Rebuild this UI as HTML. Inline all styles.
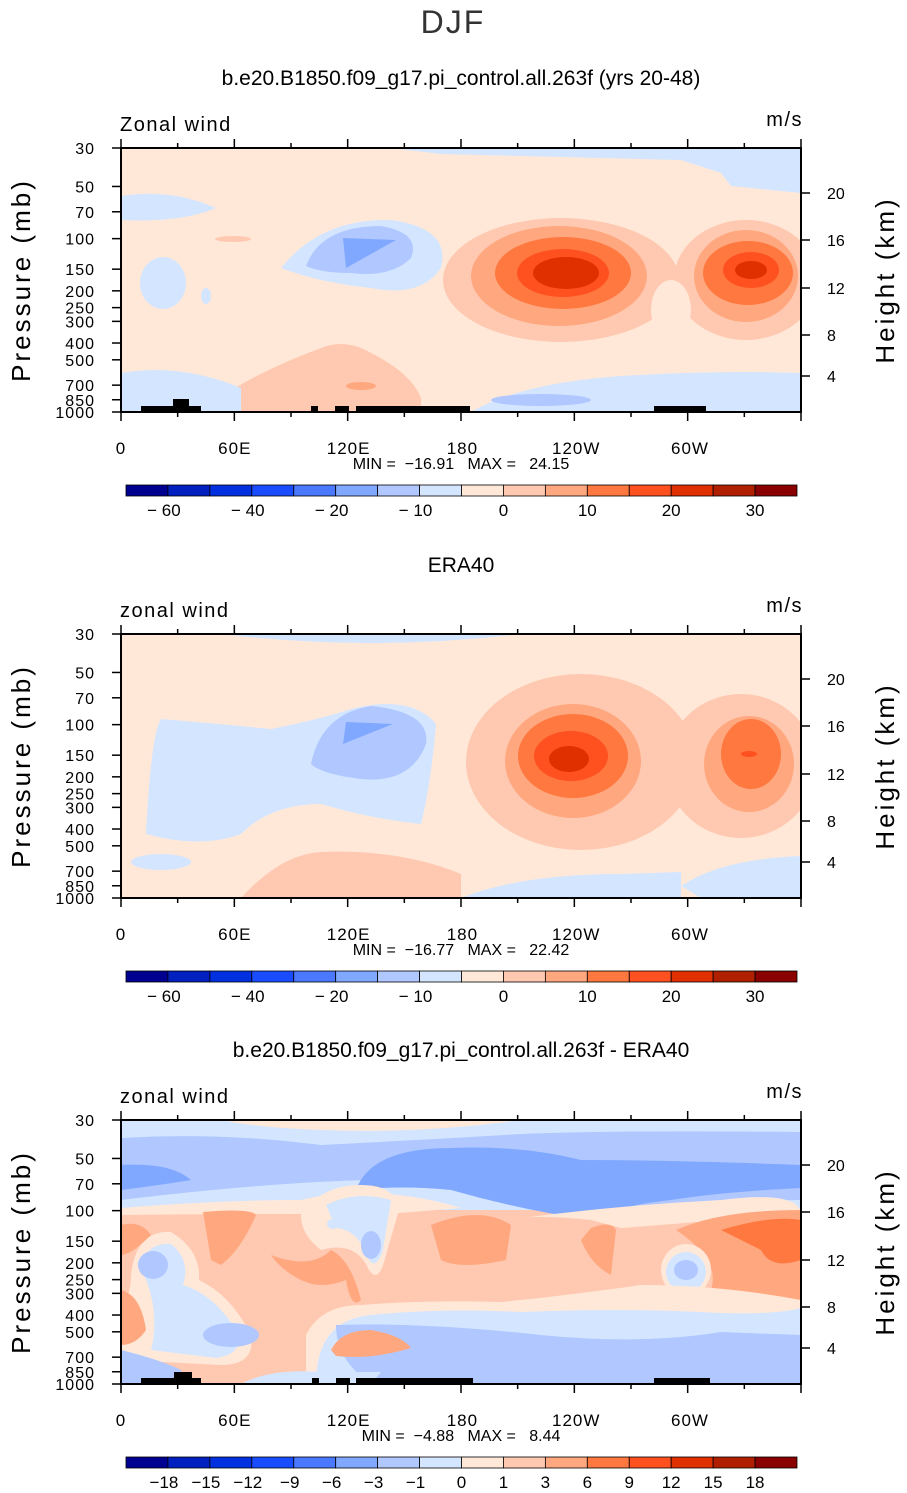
<!DOCTYPE html>
<html><head><meta charset="utf-8"><style>
body{margin:0;background:#fff}
svg{display:block;font-family:"Liberation Sans",sans-serif}
text{white-space:pre}
</style></head><body>
<svg id="fig" width="907" height="1493" viewBox="0 0 907 1493">
<defs>
<clipPath id="cp"><rect x="0" y="0" width="680" height="264"/></clipPath>
</defs>
<text x="453" y="33" font-size="32" text-anchor="middle" fill="#333" letter-spacing="2">DJF</text>

<!-- Panel 1 -->
<text x="461" y="85" font-size="21" text-anchor="middle">b.e20.B1850.f09_g17.pi_control.all.263f (yrs 20-48)</text>
<g transform="translate(121,148)">
<g clip-path="url(#cp)">
<rect width="680" height="264" fill="#ffe8d8"/>
<path d="M270 0 L680 0 L680 45 L610 38 L600 25 L560 12 L480 10 L400 8 L320 6 Z" fill="#d4e6ff"/>
<path d="M0 48 Q50 40 95 60 Q60 75 0 72 Z" fill="#d4e6ff"/>
<ellipse cx="42" cy="135" rx="23" ry="26" fill="#d4e6ff"/>
<ellipse cx="85" cy="148" rx="5" ry="8" fill="#d4e6ff"/>
<path d="M160 120 Q200 70 270 72 Q330 80 320 120 Q300 150 250 140 Q200 135 160 120Z" fill="#d4e6ff"/>
<path d="M185 118 Q200 78 260 78 Q300 85 290 110 Q270 130 230 125 Q200 125 185 118Z" fill="#b0c8ff"/>
<path d="M225 120 L222 90 L275 92 Z" fill="#80a8ff"/>
<ellipse cx="440" cy="132" rx="118" ry="62" fill="#ffc8b0"/>
<ellipse cx="438" cy="128" rx="88" ry="50" fill="#ffa880"/>
<ellipse cx="442" cy="125" rx="68" ry="36" fill="#ff7840"/>
<ellipse cx="442" cy="125" rx="46" ry="24" fill="#ff5020"/>
<ellipse cx="445" cy="125" rx="33" ry="16" fill="#e03000"/>
<ellipse cx="625" cy="132" rx="72" ry="60" fill="#ffc8b0"/>
<ellipse cx="625" cy="128" rx="52" ry="46" fill="#ffa880"/>
<ellipse cx="627" cy="125" rx="45" ry="32" fill="#ff7840"/>
<ellipse cx="630" cy="122" rx="28" ry="18" fill="#ff5020"/>
<ellipse cx="630" cy="122" rx="16" ry="9" fill="#e03000"/>
<ellipse cx="550" cy="162" rx="20" ry="30" fill="#ffe8d8"/>
<ellipse cx="112" cy="91" rx="18" ry="3" fill="#ffc8b0"/>
<path d="M80 264 Q120 230 200 200 Q225 190 250 205 Q290 225 300 250 L300 264Z" fill="#ffc8b0"/>
<ellipse cx="240" cy="238" rx="15" ry="4" fill="#ffa880"/>
<path d="M0 225 Q60 215 120 240 L120 264 L0 264Z" fill="#d4e6ff"/>
<path d="M350 264 Q400 235 500 228 Q600 222 680 225 L680 264Z" fill="#d4e6ff"/>
<ellipse cx="420" cy="252" rx="50" ry="6" fill="#b0c8ff"/>
</g>
<g fill="#000">
<rect x="20" y="258" width="60" height="6"/><rect x="52" y="251" width="16" height="13"/>
<rect x="190" y="258" width="7" height="6"/><rect x="214" y="258" width="14" height="6"/>
<rect x="235" y="258" width="114" height="6"/><rect x="533" y="258" width="52" height="6"/>
</g>
</g>

<!-- Panel 2 -->
<text x="461" y="572" font-size="21" text-anchor="middle">ERA40</text>
<g transform="translate(121,634)">
<g clip-path="url(#cp)">
<rect width="680" height="264" fill="#ffe8d8"/>
<path d="M100 0 L400 0 Q300 12 200 8 Q150 6 100 0Z" fill="#d4e6ff"/>
<path d="M25 200 Q30 100 40 85 Q100 90 150 95 Q200 85 230 75 Q290 60 315 90 Q310 150 300 190 Q250 185 200 170 Q150 170 120 200 Q80 215 25 200Z" fill="#d4e6ff"/>
<path d="M190 130 Q200 80 250 72 Q310 78 305 110 Q290 150 240 145 Q200 140 190 130Z" fill="#b0c8ff"/>
<path d="M222 110 L225 88 L272 90 Z" fill="#80a8ff"/>
<ellipse cx="460" cy="128" rx="115" ry="88" fill="#ffc8b0"/>
<ellipse cx="452" cy="127" rx="68" ry="57" fill="#ffa880"/>
<ellipse cx="452" cy="122" rx="55" ry="42" fill="#ff7840"/>
<ellipse cx="450" cy="122" rx="37" ry="25" fill="#ff5020"/>
<ellipse cx="448" cy="125" rx="20" ry="13" fill="#e03000"/>
<ellipse cx="620" cy="132" rx="75" ry="72" fill="#ffc8b0"/>
<ellipse cx="628" cy="130" rx="45" ry="48" fill="#ffa880"/>
<ellipse cx="630" cy="120" rx="30" ry="35" fill="#ff7840"/>
<ellipse cx="628" cy="120" rx="8" ry="3" fill="#ff5020"/>
<path d="M120 264 Q160 220 200 218 Q280 215 340 240 L340 264Z" fill="#ffc8b0"/>
<path d="M340 264 Q400 240 500 240 L560 238 L560 264Z" fill="#d4e6ff"/>
<path d="M560 252 Q600 225 680 222 L680 264 L580 264Z" fill="#d4e6ff"/>
<ellipse cx="40" cy="228" rx="30" ry="8" fill="#d4e6ff"/>
</g>
</g>

<!-- Panel 3 -->
<text x="461" y="1057" font-size="21" text-anchor="middle">b.e20.B1850.f09_g17.pi_control.all.263f - ERA40</text>
<g transform="translate(121,1120)">
<g clip-path="url(#cp)">
<rect width="680" height="264" fill="#ffc8b0"/>
<rect width="680" height="90" fill="#d4e6ff"/>
<path d="M100 0 L400 0 Q300 14 200 10 Q140 8 100 0Z" fill="#ffe8d8"/>
<path d="M0 18 Q100 12 200 25 Q300 20 400 14 Q500 10 680 12 L680 80 Q600 80 500 95 Q450 100 400 85 Q300 60 250 60 Q150 62 0 80Z" fill="#b0c8ff"/>
<path d="M0 45 Q50 42 70 60 Q40 65 0 70Z" fill="#80a8ff"/>
<path d="M235 70 Q250 28 330 28 Q400 25 460 40 Q550 40 680 45 L680 68 Q600 72 550 80 Q500 85 470 100 Q400 90 330 70 Q280 65 235 70Z" fill="#80a8ff"/>
<path d="M0 88 Q100 80 180 80 Q215 72 240 72 Q300 75 340 88 Q260 95 240 95 Q200 93 0 95Z" fill="#ffe8d8"/>
<path d="M470 100 Q420 95 400 98 Q500 85 600 80 Q680 70 680 95 Q650 95 600 100 Q540 105 500 108Z" fill="#ffe8d8"/>
<path d="M180 95 Q200 65 240 65 Q275 65 278 90 L265 135 Q258 165 248 150 Q235 120 200 130 Q180 115 180 95Z" fill="#ffe8d8"/>
<path d="M205 85 Q235 70 270 80 L262 130 Q255 150 248 140 Q238 110 215 108Z" fill="#d4e6ff"/>
<ellipse cx="250" cy="125" rx="10" ry="14" fill="#b0c8ff"/>
<ellipse cx="212" cy="104" rx="6" ry="5" fill="#d4e6ff"/>
<path d="M10 155 Q15 110 50 112 Q80 130 78 160 Q110 175 130 215 Q135 245 100 245 L0 240 L0 190 Q10 175 10 155Z" fill="#ffe8d8"/>
<path d="M20 148 Q25 122 50 124 Q70 140 62 165 Q95 175 118 215 Q120 235 95 238 L30 230 Q40 190 20 148Z" fill="#d4e6ff"/>
<ellipse cx="32" cy="145" rx="15" ry="14" fill="#b0c8ff"/>
<ellipse cx="110" cy="215" rx="28" ry="12" fill="#b0c8ff"/>
<path d="M0 105 Q20 100 30 115 Q10 135 0 135Z" fill="#ffa880"/>
<path d="M0 170 Q20 175 25 210 Q15 225 0 225Z" fill="#ffa880"/>
<path d="M82 92 Q130 88 135 95 Q120 130 100 145 L90 140 Q85 110 82 92Z" fill="#ffa880"/>
<path d="M150 135 Q190 150 210 130 Q230 140 240 180 Q230 190 225 160 Q200 170 180 160 Q160 150 150 135Z" fill="#ffa880"/>
<path d="M310 105 Q360 85 390 105 L385 140 Q340 150 320 140 Z" fill="#ffa880"/>
<path d="M470 108 Q490 100 495 110 L490 155 Q470 145 460 120Z" fill="#ffa880"/>
<path d="M555 110 Q600 90 680 90 L680 180 Q620 180 590 170 Q600 140 555 110Z" fill="#ffa880"/>
<path d="M600 110 Q650 95 680 100 L680 140 Q650 150 640 130Z" fill="#ff7840"/>
<ellipse cx="565" cy="150" rx="25" ry="26" fill="#ffe8d8"/>
<ellipse cx="565" cy="152" rx="20" ry="20" fill="#d4e6ff"/>
<ellipse cx="565" cy="150" rx="12" ry="10" fill="#b0c8ff"/>
<path d="M0 230 Q40 240 60 250 L60 264 L0 264Z" fill="#b0c8ff"/>
<path d="M185 215 Q200 185 240 185 Q300 180 380 182 Q450 175 520 165 Q600 165 680 180 L680 264 L185 264Z" fill="#ffe8d8"/>
<path d="M195 264 Q195 200 250 195 Q320 188 400 192 Q500 188 580 192 Q650 196 680 188 L680 264Z" fill="#d4e6ff"/>
<path d="M215 205 Q300 202 420 215 Q520 225 600 212 L680 215 L680 264 L250 264 Q215 240 215 205Z" fill="#b0c8ff"/>
<path d="M120 264 Q150 248 200 252 L260 252 L250 264Z" fill="#d4e6ff"/>
<path d="M210 230 Q220 210 250 210 Q280 215 290 228 Q250 240 215 236Z" fill="#ffa880"/>
</g>
<g fill="#000">
<rect x="20" y="258" width="60" height="6"/><rect x="53" y="252" width="18" height="12"/>
<rect x="191" y="258" width="7" height="6"/><rect x="215" y="258" width="14" height="6"/>
<rect x="235" y="258" width="117" height="6"/><rect x="533" y="258" width="56" height="6"/>
</g>
</g>
<g id="axes"></g>
</svg>
<script>
const longLabels = ["0","60E","120E","180","120W","60W"];
const pressureLevels = [30,50,70,100,150,200,250,300,400,500,700,850,1000];
const heightLevels = [20,16,12,8,4];
const cbLabels1 = ["-60","-40","-20","-10","0","10","20","30"];
const cbLabels3 = ["-18","-15","-12","-9","-6","-3","-1","0","1","3","6","9","12","15","18"];
const cbColors = ["#000090","#0020c0","#0030e0","#1a4cff","#4a78ff","#80a8ff","#b0c8ff","#d4e6ff","#ffe8d8","#ffc8b0","#ffa880","#ff7840","#ff5020","#e03000","#b02000","#8a0000"];
const panelMin = ["-16.91","-16.77","-4.88"];
const panelMax = ["24.15","22.42","8.44"];
const panelLabel = ["Zonal wind","zonal wind","zonal wind"];

const NS="http://www.w3.org/2000/svg";
const g=document.getElementById('axes');
function mk(t,a,p){const e=document.createElementNS(NS,t);for(const k in a)e.setAttribute(k,a[k]);(p||g).appendChild(e);return e;}
const X0=121,W=680,H=264;
const py=(p,top)=>top+H-H*Math.log(1000/p)/Math.log(1000/30);
const heightY=(h,top)=>top+H-(h/4)*(228-45)/4*1-((h-4)*0)+ (h===4? -H+228 - (H-(183/4)) : 0);
const hMap={20:45,16:92,12:140,8:187,4:228};
[148,634,1120].forEach((top,i)=>{
  const fr=mk('rect',{x:X0,y:top,width:W,height:H,fill:'none',stroke:'#000','stroke-width':2});
  
  
  for(let k=0;k<=12;k++){const x=X0+k*W/12;const L=k%2?5:9;
    mk('line',{x1:x,x2:x,y1:top,y2:top-L,stroke:'#000','stroke-width':1.5});
    mk('line',{x1:x,x2:x,y1:top+H,y2:top+H+L,stroke:'#000','stroke-width':1.5});}
  longLabels.forEach((l,k)=>{const t=mk('text',{x:X0+k*113.8,y:top+H+42,'font-size':17,'text-anchor':'middle','letter-spacing':'1'});t.textContent=l;
    
    });
  pressureLevels.forEach(p=>{const y=py(p,top);
    mk('line',{x1:X0-9,x2:X0,y1:y,y2:y,stroke:'#000','stroke-width':1.5});
    const t=mk('text',{x:X0-26,y:y+6,'font-size':16,'text-anchor':'end','letter-spacing':'1'});t.textContent=p;
    
    });
  heightLevels.forEach(h=>{const y=hMap[h]+top;
    mk('line',{x1:X0+W,x2:X0+W+9,y1:y,y2:y,stroke:'#000','stroke-width':1.5});
    const t=mk('text',{x:X0+W+26,y:y+6,'font-size':16});t.textContent=h;
    
    });
  let t=mk('text',{x:0,y:0,'font-size':26,'text-anchor':'middle',transform:`translate(30,${top+132}) rotate(-90)`,'letter-spacing':'3'});t.textContent='Pressure (mb)';
  
  
  t=mk('text',{x:0,y:0,'font-size':26,'text-anchor':'middle',transform:`translate(894,${top+132}) rotate(-90)`,'letter-spacing':'3'});t.textContent='Height (km)';
  
  
  t=mk('text',{x:120,y:top-17,'font-size':20,'letter-spacing':'1.5'});t.textContent=panelLabel[i];
  
  
  t=mk('text',{x:803,y:top-22,'font-size':20,'text-anchor':'end','letter-spacing':'1.5'});t.textContent='m/s';
  
  
  t=mk('text',{x:461,y:top+H+57,'font-size':16,'text-anchor':'middle'});t.textContent=`MIN =  ${panelMin[i].replace('-','\u2212')}   MAX =   ${panelMax[i]}`;
  
  
  const cy=top+337,bx=126,bw=671/16;
  cbColors.forEach((c,k)=>{const r=mk('rect',{x:bx+k*bw,y:cy,width:bw,height:11,fill:c,stroke:'#000','stroke-width':0.8});
    
    });
  if(i<2){
    cbLabels1.forEach((l,k)=>{const tt=mk('text',{x:bx+(2*k+1)*bw+(l.startsWith('-')?-4:0),y:cy+31,'font-size':17,'text-anchor':'middle'});tt.textContent=l.replace('-','\u2212 ');
      
      });
  } else {
    cbLabels3.forEach((l,k)=>{const tt=mk('text',{x:bx+(k+1)*bw+(l.startsWith('-')?-4:0),y:cy+31,'font-size':17,'text-anchor':'middle'});tt.textContent=l.replace('-','\u2212');
      
      });
  }
});
</script>
</body></html>
